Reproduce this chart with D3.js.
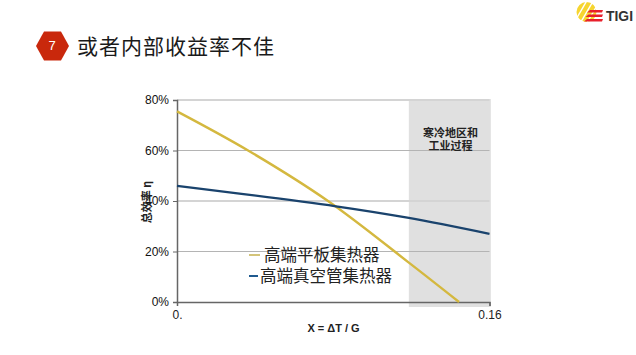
<!DOCTYPE html>
<html>
<head>
<meta charset="utf-8">
<title>或者内部收益率不佳</title>
<style>
html, body { margin: 0; padding: 0; background: #fff; }
svg { display: block; }
text { font-family: "Liberation Sans", "Noto Sans CJK SC", sans-serif; }
.cjk { font-family: "Noto Sans CJK SC", sans-serif; }
</style>
</head>
<body>
<svg width="636" height="355"></svg>
<script src="https://d3js.org/d3.v7.min.js"></script>
<script>
// values (x = delta T / G, y = efficiency in %)
var flatX = [0, 0.0364, 0.0773, 0.1187, 0.1444];
var flatY = [75.5, 60, 40, 15.6, 0];
var tubeX = [0, 0.0814, 0.1187, 0.16];
var tubeY = [46, 37.9, 33.3, 27];
var yTicks = [0, 20, 40, 60, 80];
var xTicks = [0, 0.16];
var xTickLabels = ["0.", "0.16"];
var bandRange = [0.1187, 0.16];
var legendNames = ["高端平板集热器", "高端真空管集热器"];
var bandLines = ["寒冷地区和", "工业过程"];
var pageTitle = "或者内部收益率不佳";

var svg = d3.select("svg");

var x = d3.scaleLinear().domain([0, 0.16]).range([177, 489.5]);
var y = d3.scaleLinear().domain([0, 80]).range([302, 100]);

// gray zone on the right
svg.append("rect")
    .attr("x", x(bandRange[0]))
    .attr("y", 99)
    .attr("width", 82)
    .attr("height", 208)
    .attr("fill", "#e0e0e0");

// gridlines, 80 and 40 come out paler and wider in the reference
svg.append("g").selectAll("line")
  .data(yTicks.slice(1))
  .enter().append("line")
    .attr("x1", x(0))
    .attr("x2", x(0.16))
    .attr("y1", function(d) { return y(d); })
    .attr("y2", function(d) { return y(d); })
    .attr("stroke", function(d) { return d % 40 == 0 ? "#d4d4d4" : "#b4b4b4"; })
    .attr("stroke-width", function(d) { return d % 40 == 0 ? 2 : 1; });

// y axis
var yAxis = d3.axisLeft(y)
    .tickValues(yTicks)
    .tickFormat(function(d) { return d + "%"; })
    .tickSize(4)
    .tickPadding(4);
var yg = svg.append("g").attr("transform", "translate(" + x(0) + ",0)").call(yAxis);
yg.select(".domain").attr("stroke", "#666").attr("stroke-width", 1.5);
yg.selectAll(".tick line").attr("stroke", "#666");
yg.selectAll("text").attr("font-size", 12).attr("fill", "#111")
    .style("font-family", '"Liberation Sans", sans-serif');

// x axis
var xAxis = d3.axisBottom(x)
    .tickValues(xTicks)
    .tickFormat(function(d, i) { return xTickLabels[i]; })
    .tickSize(4)
    .tickPadding(4);
var xg = svg.append("g").attr("transform", "translate(0," + y(0) + ")").call(xAxis);
xg.select(".domain").attr("stroke", "#666").attr("stroke-width", 1.5);
xg.selectAll(".tick line").attr("stroke", "#666");
xg.selectAll("text").attr("font-size", 12).attr("fill", "#222")
    .style("font-family", '"Liberation Sans", sans-serif');

// the two curves
var line = d3.line()
    .x(function(d) { return x(d[0]); })
    .y(function(d) { return y(d[1]); })
    .curve(d3.curveCatmullRom);

svg.append("path")
    .attr("d", line(d3.zip(flatX, flatY)))
    .attr("fill", "none")
    .attr("stroke", "#d4b83f")
    .attr("stroke-width", 2.4);

svg.append("path")
    .attr("d", line(d3.zip(tubeX, tubeY)))
    .attr("fill", "none")
    .attr("stroke", "#1a436d")
    .attr("stroke-width", 2.2);

// axis titles
svg.append("text")
    .attr("x", 333.5)
    .attr("y", 332)
    .attr("text-anchor", "middle")
    .attr("font-size", 11)
    .attr("font-weight", "bold")
    .attr("fill", "#222")
    .text("X = ΔT / G");

svg.append("text")
    .attr("class", "cjk")
    .attr("transform", "translate(151,202) rotate(-90)")
    .attr("text-anchor", "middle")
    .attr("font-size", 11)
    .attr("font-weight", "bold")
    .attr("fill", "#222")
    .text("总效率 η");

// text in the gray zone, one text wrapped over two lines
svg.append("text")
    .attr("class", "cjk")
    .attr("text-anchor", "middle")
    .attr("font-size", 11)
    .attr("font-weight", "bold")
    .attr("fill", "#222")
  .selectAll("tspan")
  .data(bandLines)
  .enter().append("tspan")
    .attr("x", 450.5)
    .attr("y", function(d, i) { return 136.5 + i * 13.5; })
    .text(function(d) { return d; });

// legend
var legendColors = ["#d4c47a", "#1f5a8f"];
var legendTextX = [264, 260];
var legendY = [261, 282];
var legendKeyX = [[249, 260], [249, 258]];
var legend = svg.append("g");
legendNames.forEach(function(name, i) {
  legend.append("line")
      .attr("x1", legendKeyX[i][0])
      .attr("x2", legendKeyX[i][1])
      .attr("y1", legendY[i] - 6)
      .attr("y2", legendY[i] - 6)
      .attr("stroke", legendColors[i])
      .attr("stroke-width", 2);
  legend.append("text")
      .attr("class", "cjk")
      .attr("x", legendTextX[i])
      .attr("y", legendY[i])
      .attr("font-size", 16.5)
      .attr("fill", "#222")
      .text(name);
});

// slide title with the red hexagon
svg.append("path")
    .attr("d", "M36,46 L44,31.5 L61,31.5 L69,46 L61,60.5 L44,60.5 Z")
    .attr("fill", "#c9280c");
svg.append("text")
    .attr("x", 52)
    .attr("y", 50)
    .attr("text-anchor", "middle")
    .attr("font-size", 13)
    .attr("fill", "#fff")
    .text("7");
svg.append("text")
    .attr("class", "cjk")
    .attr("x", 77)
    .attr("y", 54)
    .attr("font-size", 21)
    .attr("textLength", 197)
    .attr("fill", "#1a1a1a")
    .text(pageTitle);

// TIGI logo
var logo = svg.append("g");
var clip = svg.append("clipPath").attr("id", "globe");
clip.append("circle").attr("cx", 586.5).attr("cy", 12).attr("r", 10);
var stripes = logo.append("g").attr("clip-path", "url(#globe)");
[0, 1, 2, 3].forEach(function(i) {
  stripes.append("line")
      .attr("x1", 570 + i * 6.5)
      .attr("y1", 24)
      .attr("x2", 584 + i * 6.5)
      .attr("y2", 0)
      .attr("stroke", "#f6d530")
      .attr("stroke-width", 4.2);
});
[10, 14.5, 19].forEach(function(yy, i) {
  logo.append("path")
      .attr("d", "M" + (590 - i * 1.5) + "," + yy + " L603," + yy + " L602,"
          + (yy + 2.6) + " L" + (587 - i * 1.5) + "," + (yy + 2.6) + " Z")
      .attr("fill", "#e8202c");
});
logo.append("text")
    .attr("x", 606)
    .attr("y", 21)
    .attr("font-size", 14)
    .attr("font-weight", "bold")
    .attr("fill", "#333")
    .attr("textLength", 27)
    .attr("lengthAdjust", "spacingAndGlyphs")
    .text("TIGI");
</script>
</body>
</html>
